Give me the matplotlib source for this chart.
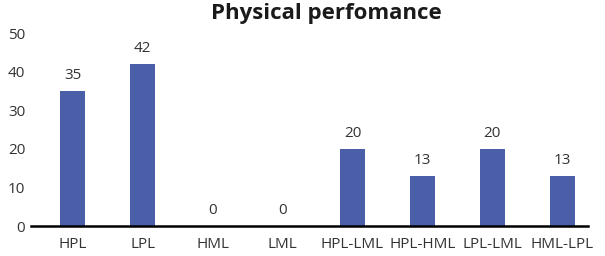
import matplotlib
matplotlib.use('Agg')
import matplotlib.pyplot as plt

categories = ['HPL', 'LPL', 'HML', 'LML', 'HPL-LML', 'HPL-HML', 'LPL-LML', 'HML-LPL']
values = [35, 42, 0, 0, 20, 13, 20, 13]
y_ticks = [0, 10, 20, 30, 40, 50]

plt.rcParams['font.family'] = ['Open Sans', 'DejaVu Sans']
text_color = '#333333'
bar_color = '#4a5fa8'

fig = plt.figure(figsize=(6.05, 2.56), dpi=100)
ax = fig.add_axes([0.051, 0.117, 0.921, 0.754])

x = list(range(len(categories)))
bars = ax.bar(x, values, width=0.36, color=bar_color)
for xi, v in zip(x, values):
    ax.text(xi, v + 2.0, str(v), ha='center', va='bottom', fontsize=11, color=text_color)

ax.set_xlim(-0.6, 7.37)
ax.set_ylim(0, 50)
ax.set_yticks(y_ticks)
ax.set_xticks(x)
ax.set_xticklabels(categories)
ax.tick_params(axis='both', length=0, labelsize=11, colors=text_color)
ax.tick_params(axis='x', pad=8)
ax.tick_params(axis='y', pad=4)
for side in ['top', 'right', 'left']:
    ax.spines[side].set_visible(False)
ax.spines['bottom'].set_linewidth(1.8)
ax.spines['bottom'].set_color('black')

fig.text(326 / 605, 1 - 14 / 256, 'Physical perfomance', ha='center', va='center',
         fontsize=16, fontweight='bold', color='#1a1a1a')

fig.savefig('out.png', dpi=100)
